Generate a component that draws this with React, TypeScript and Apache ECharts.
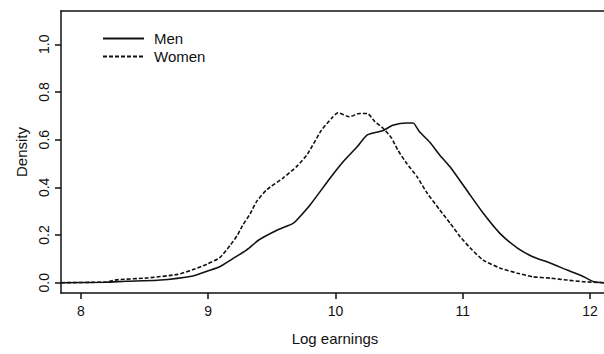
import React, { useEffect, useRef } from "react";
import * as echarts from "echarts";

const menLogEarnings = [7.843, 8.2, 8.35, 8.6, 8.88, 9.0, 9.09, 9.19, 9.3, 9.4, 9.54, 9.67, 9.72, 9.8, 9.96, 10.06, 10.17, 10.25, 10.37, 10.45, 10.56, 10.61, 10.66, 10.74, 10.82, 10.9, 11.03, 11.16, 11.29, 11.43, 11.55, 11.69, 11.82, 11.95, 12.03, 12.11];
const menDensity = [0.0, 0.002, 0.006, 0.01, 0.028, 0.05, 0.067, 0.1, 0.137, 0.18, 0.22, 0.25, 0.277, 0.326, 0.44, 0.507, 0.57, 0.62, 0.637, 0.66, 0.67, 0.67, 0.633, 0.59, 0.535, 0.486, 0.389, 0.292, 0.208, 0.145, 0.109, 0.082, 0.053, 0.025, 0.004, 0.0];

const womenLogEarnings = [7.843, 8.2, 8.28, 8.52, 8.76, 8.88, 8.99, 9.09, 9.17, 9.23, 9.27, 9.33, 9.38, 9.46, 9.59, 9.7, 9.78, 9.89, 9.97, 10.02, 10.11, 10.19, 10.25, 10.31, 10.37, 10.44, 10.49, 10.56, 10.64, 10.72, 10.82, 10.9, 10.98, 11.06, 11.16, 11.29, 11.43, 11.55, 11.69, 11.82, 11.95, 12.11];
const womenDensity = [0.0, 0.003, 0.012, 0.02, 0.035, 0.055, 0.078, 0.105, 0.155, 0.2, 0.24, 0.29, 0.34, 0.39, 0.44, 0.49, 0.54, 0.64, 0.69, 0.713, 0.696, 0.71, 0.71, 0.675, 0.65, 0.607, 0.556, 0.5, 0.445, 0.376, 0.305, 0.25, 0.193, 0.145, 0.095, 0.062, 0.04, 0.025, 0.019, 0.011, 0.004, 0.0];

const xTicks = [8, 9, 10, 11, 12];
const yTicks = [0, 0.2, 0.4, 0.6, 0.8, 1.0];
const seriesNames = ["Men", "Women"];

const FONT = "Liberation Sans";
const INK = "#111";

export default function App() {
  const ref = useRef<HTMLDivElement>(null);
  useEffect(() => {
    document.body.style.margin = "0";
    const chart = echarts.init(ref.current!, null, { renderer: "svg" });
    const xMin = 7.843;
    const xMax = 12.11;
    chart.setOption({
      animation: false,
      backgroundColor: "#fff",
      grid: { left: 61, top: 11, right: 0, bottom: 61 },
      legend: {
        data: seriesNames,
        orient: "vertical",
        left: 97,
        top: 26,
        itemWidth: 41,
        itemHeight: 14,
        itemGap: 3,
        itemStyle: { opacity: 0 },
        textStyle: { fontFamily: FONT, fontSize: 15, color: INK, padding: [0, 0, 0, 5] },
      },
      xAxis: [
        {
          type: "value",
          min: xMin,
          max: xMax,
          name: "Log earnings",
          nameLocation: "middle",
          nameGap: 38,
          nameTextStyle: { fontFamily: FONT, fontSize: 15, color: INK, padding: [0, 0, 0, 5] },
          axisLine: { onZero: false, lineStyle: { color: INK, width: 1.5 } },
          axisTick: { show: true, length: 6, customValues: xTicks, lineStyle: { color: INK, width: 1.5 } },
          axisLabel: { customValues: xTicks, margin: 11, fontFamily: FONT, fontSize: 14, color: INK },
          splitLine: { show: false },
        },
        {
          type: "value",
          position: "top",
          min: xMin,
          max: xMax,
          axisLine: { onZero: false, lineStyle: { color: INK, width: 1.5 } },
          axisTick: { show: false },
          axisLabel: { show: false },
          splitLine: { show: false },
        },
      ],
      yAxis: {
        type: "value",
        min: -0.0432,
        max: 1.1397,
        name: "Density",
        nameLocation: "middle",
        nameGap: 31,
        nameTextStyle: { fontFamily: FONT, fontSize: 15, color: INK },
        axisLine: { show: true, onZero: false, lineStyle: { color: INK, width: 1.5 } },
        axisTick: { show: true, length: 6, customValues: yTicks, lineStyle: { color: INK, width: 1.5 } },
        axisLabel: {
          customValues: yTicks,
          rotate: 90,
          margin: 10,
          fontFamily: FONT,
          fontSize: 14,
          color: INK,
          formatter: (v: number) => v.toFixed(1),
        },
        splitLine: { show: false },
      },
      series: [
        {
          name: seriesNames[0],
          type: "line",
          xAxisIndex: 0,
          symbol: "none",
          smooth: 0.2,
          data: menLogEarnings.map((x, i) => [x, menDensity[i]]),
          lineStyle: { color: INK, width: 1.6, type: "solid" },
          itemStyle: { color: INK },
        },
        {
          name: seriesNames[1],
          type: "line",
          xAxisIndex: 0,
          symbol: "none",
          smooth: 0.2,
          data: womenLogEarnings.map((x, i) => [x, womenDensity[i]]),
          lineStyle: { color: INK, width: 1.6, type: [4, 2] },
          itemStyle: { color: INK },
        },
      ],
    });
    return () => chart.dispose();
  }, []);
  return <div ref={ref} style={{ width: 604, height: 354 }} />;
}
